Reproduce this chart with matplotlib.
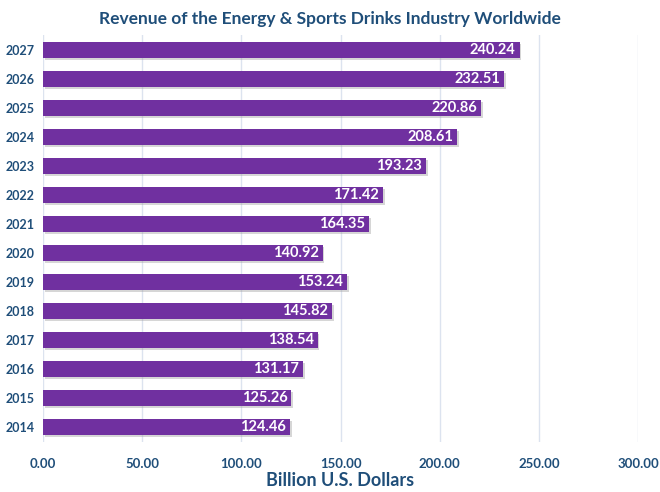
import numpy as np
import matplotlib.pyplot as plt
import matplotlib.patheffects as pe

# ===== Data =====
years = ['2014', '2015', '2016', '2017', '2018', '2019', '2020',
         '2021', '2022', '2023', '2024', '2025', '2026', '2027']
revenue = [124.46, 125.26, 131.17, 138.54, 145.82, 153.24, 140.92,
           164.35, 171.42, 193.23, 208.61, 220.86, 232.51, 240.24]
xticks = [0, 50, 100, 150, 200, 250, 300]

navy = '#1F4E79'
purple = '#7030A0'
plt.rcParams['font.family'] = ['Lato', 'DejaVu Sans']

fig = plt.figure(figsize=(6.6, 4.92), dpi=100)
ax = fig.add_axes([0.065, 0.1026, 0.902, 0.8254])

y = np.arange(len(years))
ax.barh(y, revenue, height=0.55, color=purple, zorder=3,
        path_effects=[pe.SimplePatchShadow(offset=(1.2, -1.2), shadow_rgbFace='#999999', alpha=0.4),
                      pe.Normal()])
for yi, v in zip(y, revenue):
    ax.text(v - 2, yi, f'{v:.2f}', color='white', fontweight='bold', fontsize=10.5,
            ha='right', va='center', zorder=4)

ax.set_ylim(-0.5, len(years) - 0.5)
ax.set_xlim(0, 300)
ax.set_yticks(y)
ax.set_yticklabels(years, fontweight='bold', fontsize=9, color=navy)
ax.set_xticks(xticks)
ax.set_xticklabels([f'{t:.2f}' for t in xticks], fontweight='bold', fontsize=9.5, color=navy)
ax.tick_params(length=0, pad=6)
ax.tick_params(axis='x', pad=12)
ax.grid(axis='x', color='#DCE3EF', lw=1, zorder=0)
for s in ax.spines.values():
    s.set_visible(False)

ax.set_xlabel('Billion U.S. Dollars', fontweight='bold', fontsize=13, color=navy, labelpad=1)
fig.text(0.5, 0.962, 'Revenue of the Energy & Sports Drinks Industry Worldwide',
         ha='center', va='center', fontweight='bold', fontsize=12.5, color=navy)

plt.savefig('out.png', dpi=100)
